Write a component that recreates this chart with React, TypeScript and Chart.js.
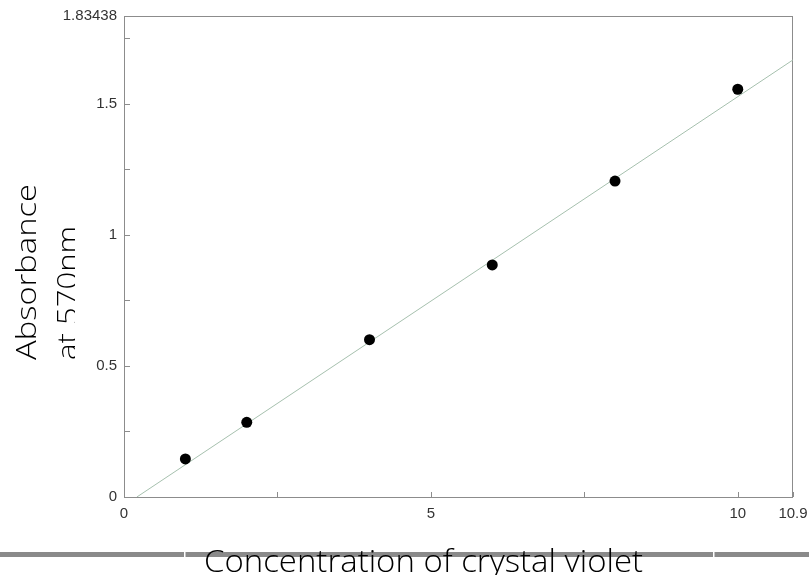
import React, { useEffect, useRef } from "react";
import { Chart, registerables } from "chart.js";

Chart.register(...registerables);

// Measured points
const concentration = [1, 2, 4, 6, 8, 10];
const absorbance = [0.145, 0.285, 0.6, 0.885, 1.205, 1.555];

// Fitted line end points
const fitX = [0.21, 10.9];
const fitY = [0, 1.667];

// Axes
const xMin = 0;
const xMax = 10.9;
const yMin = 0;
const yMax = 1.83438;
const xTickValues = [0, 2.5, 5, 7.5, 10, 10.9];
const xTickLabels = ["0", "", "5", "", "10", "10.9"];
const yTickValues = [0, 0.25, 0.5, 0.75, 1, 1.25, 1.5, 1.75, 1.83438];
const yTickLabels = ["0", "", "0.5", "", "1", "", "1.5", "", "1.83438"];

const xTitle = "Concentration of crystal violet";
const yTitleLines = ["Absorbance", "at 570nm"];

const W = 809;
const H = 575;
const TITLE_FONT = "'Open Sans', 'DejaVu Sans', sans-serif";

function drawStretched(
  ctx: CanvasRenderingContext2D,
  text: string,
  x: number,
  y: number,
  targetWidth: number
) {
  const m = ctx.measureText(text).width;
  const sx = targetWidth / m;
  ctx.save();
  ctx.translate(x, y);
  ctx.scale(sx, 1);
  ctx.textAlign = "left";
  ctx.fillText(text, 0, 0);
  ctx.restore();
}

const decorPlugin = {
  id: "decor",
  beforeDatasetsDraw(chart: any) {
    const { ctx, chartArea } = chart;
    const { left, right, top, bottom } = chartArea;
    ctx.save();
    ctx.strokeStyle = "#8c8c8c";
    ctx.lineWidth = 1;
    ctx.strokeRect(left + 0.5, top + 0.5, right - left - 1, bottom - top);
    ctx.beginPath();
    const xs = chart.scales.x;
    for (const t of xs.ticks) {
      const px = Math.round(xs.getPixelForValue(t.value)) + 0.5;
      ctx.moveTo(px, bottom);
      ctx.lineTo(px, bottom - 5);
    }
    const ys = chart.scales.y;
    for (const t of ys.ticks) {
      const py = Math.round(ys.getPixelForValue(t.value)) + 0.5;
      ctx.moveTo(left, py);
      ctx.lineTo(left + 6, py);
    }
    ctx.stroke();
    ctx.restore();
  },
  afterDraw(chart: any) {
    const { ctx } = chart;
    ctx.save();
    // bottom grey bar
    ctx.fillStyle = "#8a8a8a";
    ctx.fillRect(0, 552, W, 5);
    ctx.fillStyle = "#ffffff";
    ctx.fillRect(184, 551, 1.5, 7);
    ctx.fillRect(713, 551, 1.5, 7);
    // x title
    ctx.fillStyle = "#000000";
    ctx.font = `300 32px ${TITLE_FONT}`;
    ctx.textBaseline = "alphabetic";
    drawStretched(ctx, xTitle, 204, 572, 439);
    ctx.restore();

    // y title (rotated, second line clipped)
    ctx.save();
    ctx.beginPath();
    ctx.rect(0, 0, 75, H);
    ctx.clip();
    ctx.fillStyle = "#000000";
    ctx.textBaseline = "alphabetic";
    const baselines = [36, 77];
    const widths = [176, 134];
    const sizes = [27, 28];
    yTitleLines.forEach((line, i) => {
      ctx.save();
      ctx.font = `300 ${sizes[i]}px ${TITLE_FONT}`;
      ctx.translate(baselines[i], 360);
      ctx.rotate(-Math.PI / 2);
      drawStretched(ctx, line, 0, 0, widths[i]);
      ctx.restore();
    });
    ctx.restore();
  },
};

export default function App() {
  const ref = useRef<HTMLCanvasElement | null>(null);

  useEffect(() => {
    if (!ref.current) return;
    const chart = new Chart(ref.current, {
      type: "scatter",
      data: {
        datasets: [
          {
            label: "fit",
            type: "line",
            data: fitX.map((x, i) => ({ x, y: fitY[i] })),
            borderColor: "#a6c0ae",
            borderWidth: 1,
            pointRadius: 0,
            fill: false,
            order: 2,
          },
          {
            label: "data",
            data: concentration.map((x, i) => ({ x, y: absorbance[i] })),
            backgroundColor: "#000000",
            borderColor: "#000000",
            pointRadius: 5.5,
            pointBorderWidth: 0,
            order: 1,
          },
        ],
      },
      options: {
        responsive: false,
        animation: false,
        devicePixelRatio: 1,
        layout: { padding: { left: 0, right: 16, top: 16, bottom: 48 } },
        plugins: {
          legend: { display: false },
          tooltip: { enabled: false },
          title: { display: false },
        },
        scales: {
          x: {
            type: "linear",
            min: xMin,
            max: xMax,
            grid: { display: false, drawTicks: false },
            border: { display: false },
            afterBuildTicks: (axis: any) => {
              axis.ticks = xTickValues.map((v) => ({ value: v }));
            },
            afterFit: (s: any) => {
              s.height = 30;
              s.paddingLeft = 0;
              s.paddingRight = 0;
            },
            ticks: {
              autoSkip: false,
              maxRotation: 0,
              padding: 8,
              color: "#333333",
              font: { family: "'Liberation Sans', Arial, sans-serif", size: 15 },
              callback: (_v: any, i: number) => xTickLabels[i],
            },
          },
          y: {
            type: "linear",
            min: yMin,
            max: yMax,
            grid: { display: false, drawTicks: false },
            border: { display: false },
            afterBuildTicks: (axis: any) => {
              axis.ticks = yTickValues.map((v) => ({ value: v }));
            },
            afterFit: (s: any) => {
              s.width = 124;
              s.paddingTop = 0;
              s.paddingBottom = 0;
            },
            ticks: {
              autoSkip: false,
              padding: 7,
              color: "#333333",
              font: { family: "'Liberation Sans', Arial, sans-serif", size: 15 },
              callback: (_v: any, i: number) => yTickLabels[i],
            },
          },
        },
      },
      plugins: [decorPlugin],
    });
    return () => chart.destroy();
  }, []);

  return (
    <div style={{ position: "fixed", left: 0, top: 0, width: W, height: H, background: "#fff" }}>
      <canvas ref={ref} width={W} height={H} style={{ display: "block", width: W, height: H }} />
    </div>
  );
}
